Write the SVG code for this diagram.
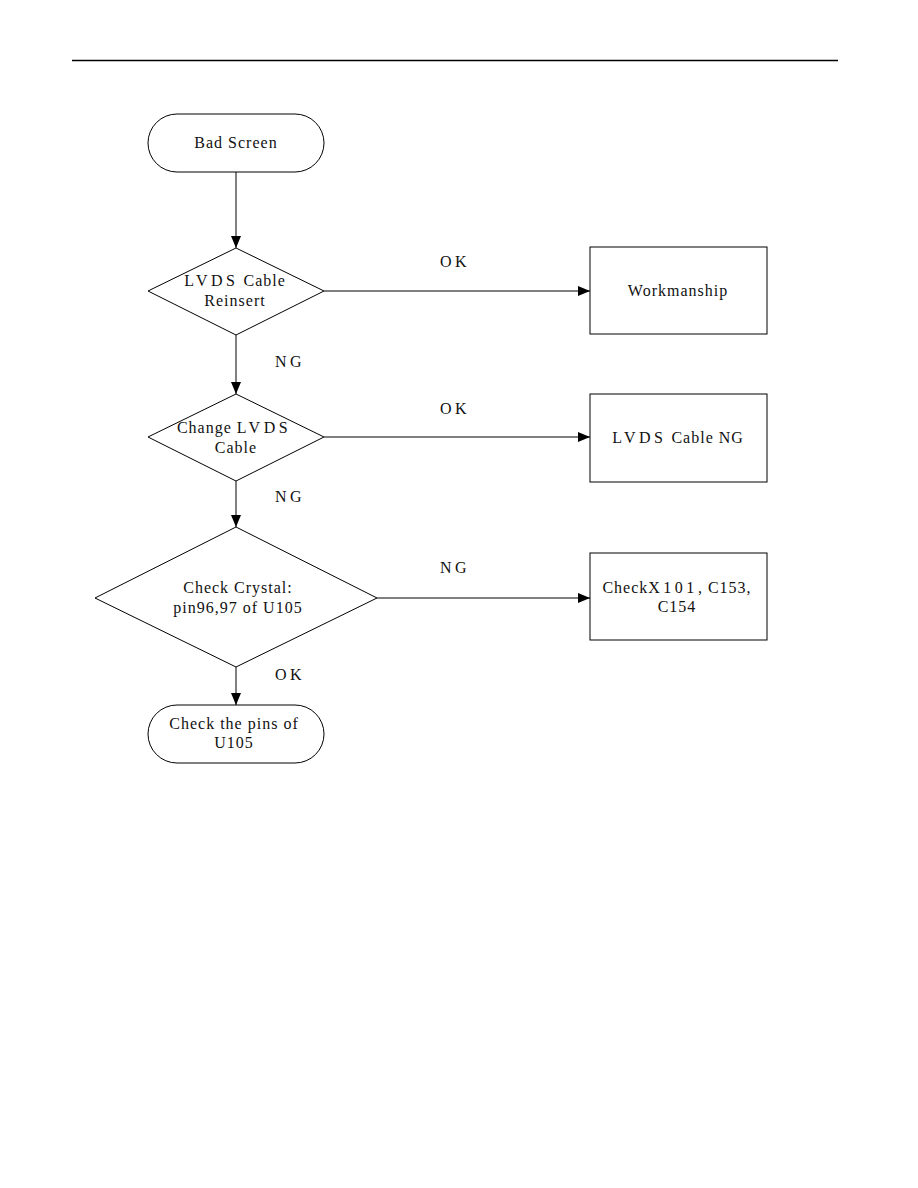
<svg xmlns="http://www.w3.org/2000/svg" width="918" height="1188" viewBox="0 0 918 1188">
<style>
.s{fill:#fff;stroke:#000;stroke-width:1}
.t{font-family:"Liberation Serif",serif;font-size:16px;fill:#111;text-anchor:middle;letter-spacing:1px}
.w{letter-spacing:3.5px}
.c{stroke:#000;stroke-width:1;fill:none}
</style>
<defs>
<marker id="a" viewBox="0 0 12 10" refX="12" refY="5" markerWidth="12" markerHeight="10" markerUnits="userSpaceOnUse" orient="auto">
<path d="M0,0 L12,5 L0,10 Z" fill="#000"/>
</marker>
</defs>
<rect width="918" height="1188" fill="#fff"/>
<line x1="72" y1="60.5" x2="838" y2="60.5" stroke="#000" stroke-width="1.5"/>
<g id="connectors">
<line class="c" x1="236" y1="172" x2="236" y2="248" marker-end="url(#a)"/>
<line class="c" x1="324" y1="291" x2="590" y2="291" marker-end="url(#a)"/>
<line class="c" x1="236" y1="335" x2="236" y2="394" marker-end="url(#a)"/>
<line class="c" x1="324" y1="437" x2="590" y2="437" marker-end="url(#a)"/>
<line class="c" x1="236" y1="481" x2="236" y2="527" marker-end="url(#a)"/>
<line class="c" x1="377" y1="598" x2="590" y2="598" marker-end="url(#a)"/>
<line class="c" x1="236" y1="667" x2="236" y2="705" marker-end="url(#a)"/>
<text class="t w" x="455" y="267">OK</text>
<text class="t w" x="290" y="367">NG</text>
<text class="t w" x="455" y="414">OK</text>
<text class="t w" x="290" y="502">NG</text>
<text class="t w" x="455" y="573">NG</text>
<text class="t w" x="290" y="680">OK</text>
</g>
<g id="bad-screen">
<rect class="s" x="148" y="114" width="176" height="58" rx="29" ry="29"/>
<text class="t" x="236" y="148">Bad Screen</text>
</g>
<g id="lvds-reinsert">
<polygon class="s" points="236,248 324,291 236,335 148,291"/>
<text class="t" x="235" y="286"><tspan class="w">LVDS</tspan> Cable</text>
<text class="t" x="235" y="306">Reinsert</text>
</g>
<g id="workmanship">
<rect class="s" x="590" y="247" width="177" height="87"/>
<text class="t" x="678" y="296">Workmanship</text>
</g>
<g id="change-lvds">
<polygon class="s" points="236,394 324,437 236,481 148,437"/>
<text class="t" x="234" y="433">Change <tspan class="w">LVDS</tspan></text>
<text class="t" x="236" y="453">Cable</text>
</g>
<g id="lvds-ng">
<rect class="s" x="590" y="394" width="177" height="88"/>
<text class="t" x="678" y="443"><tspan class="w">LVDS</tspan> Cable NG</text>
</g>
<g id="check-crystal">
<polygon class="s" points="236,527 377,598 236,667 95,598"/>
<text class="t" x="238" y="593">Check Crystal:</text>
<text class="t" x="238" y="613">pin96,97 of U105</text>
</g>
<g id="check-x101">
<rect class="s" x="590" y="553" width="177" height="87"/>
<text class="t" x="677" y="593">Check<tspan class="w">X101</tspan>, C153,</text>
<text class="t" x="677" y="612">C154</text>
</g>
<g id="check-pins">
<rect class="s" x="148" y="705" width="176" height="58" rx="29" ry="29"/>
<text class="t" x="234" y="729">Check the pins of</text>
<text class="t" x="234" y="748">U105</text>
</g>
</svg>
